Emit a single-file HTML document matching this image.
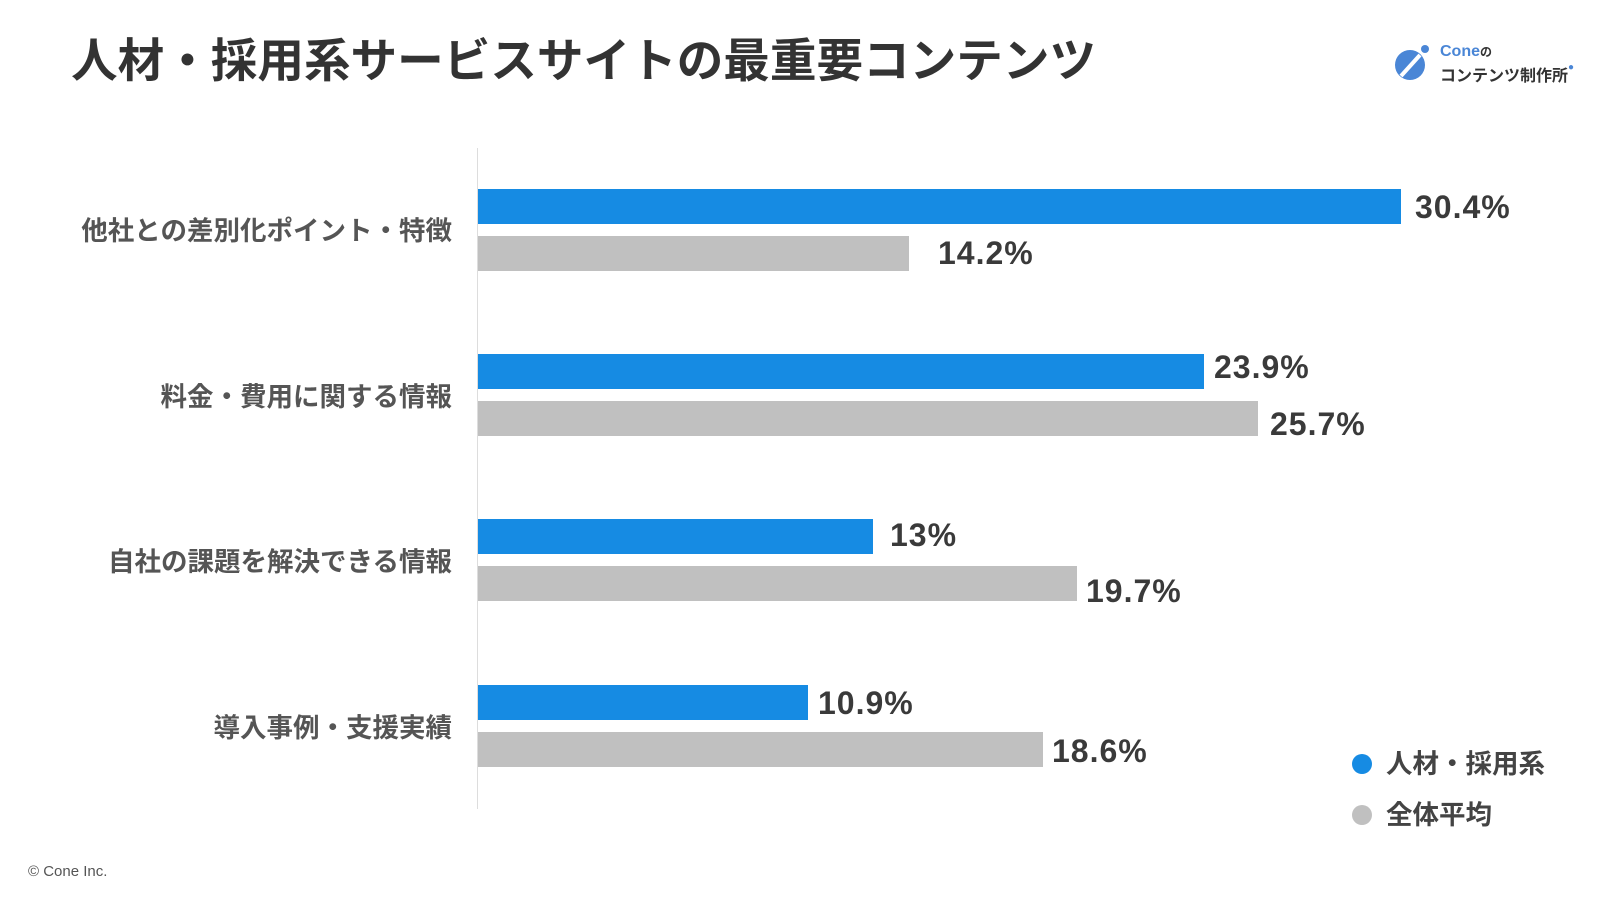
<!DOCTYPE html>
<html><head><meta charset="utf-8"><style>
body{margin:0;width:1600px;height:900px;background:#fff;position:relative;overflow:hidden;font-family:"Liberation Sans","Noto Sans CJK JP",sans-serif;}
.a{position:absolute;white-space:nowrap;}
.bar{position:absolute;left:478px;height:35px;}
.b{background:#168be3}.g{background:#c0c0c0}
.v{position:absolute;font-size:32px;font-weight:bold;color:#3a3a3a;line-height:1;transform:translateY(-50%);letter-spacing:1px}
.c{position:absolute;right:1148px;font-size:26.5px;font-weight:bold;color:#555;transform:translateY(-50%);line-height:1}
</style></head><body>
<div class="a" style="left:71px;top:33px;font-size:46.6px;font-weight:bold;color:#333;line-height:56px">人材・採用系サービスサイトの最重要コンテンツ</div>
<svg class="a" style="left:1393px;top:44px" width="40" height="38"><circle cx="17" cy="21" r="15" fill="#4a86d6"/><line x1="8" y1="32" x2="27" y2="11" stroke="#fff" stroke-width="4"/><circle cx="32" cy="5" r="4" fill="#4a86d6"/></svg>
<div class="a" style="left:1440px;top:43px;font-size:16px;color:#4a86d6;font-weight:bold">Cone<span style="font-size:12px;color:#333">の</span></div>
<div class="a" style="left:1440px;top:62px;font-size:16px;color:#333;font-weight:bold">コンテンツ制作所<span style="color:#4a86d6;font-size:10px;vertical-align:top">●</span></div>
<div class="a" style="left:477px;top:148px;width:1px;height:661px;background:#ddd"></div>
<div class="bar b" style="top:189px;width:923px"></div>
<div class="bar g" style="top:236px;width:431px"></div>
<div class="bar b" style="top:354px;width:726px"></div>
<div class="bar g" style="top:401px;width:780px"></div>
<div class="bar b" style="top:519px;width:395px"></div>
<div class="bar g" style="top:566px;width:599px"></div>
<div class="bar b" style="top:685px;width:330px"></div>
<div class="bar g" style="top:732px;width:565px"></div>
<div class="v" style="left:1415px;top:207px">30.4%</div>
<div class="v" style="left:938px;top:253px">14.2%</div>
<div class="v" style="left:1214px;top:367px">23.9%</div>
<div class="v" style="left:1270px;top:424px">25.7%</div>
<div class="v" style="left:890px;top:535px">13%</div>
<div class="v" style="left:1086px;top:591px">19.7%</div>
<div class="v" style="left:818px;top:703px">10.9%</div>
<div class="v" style="left:1052px;top:751px">18.6%</div>
<div class="c" style="top:231px">他社との差別化ポイント・特徴</div>
<div class="c" style="top:397px">料金・費用に関する情報</div>
<div class="c" style="top:562px">自社の課題を解決できる情報</div>
<div class="c" style="top:728px">導入事例・支援実績</div>
<div class="a" style="left:1352px;top:754px;width:20px;height:20px;border-radius:50%;background:#168be3"></div>
<div class="a" style="left:1352px;top:805px;width:20px;height:20px;border-radius:50%;background:#c0c0c0"></div>
<div class="a" style="left:1386px;top:749px;font-size:26.5px;font-weight:bold;color:#444;line-height:30px">人材・採用系</div>
<div class="a" style="left:1386px;top:800px;font-size:26.5px;font-weight:bold;color:#444;line-height:30px">全体平均</div>
<div class="a" style="left:28px;top:863px;font-size:15px;color:#555">© Cone Inc.</div>
</body></html>
